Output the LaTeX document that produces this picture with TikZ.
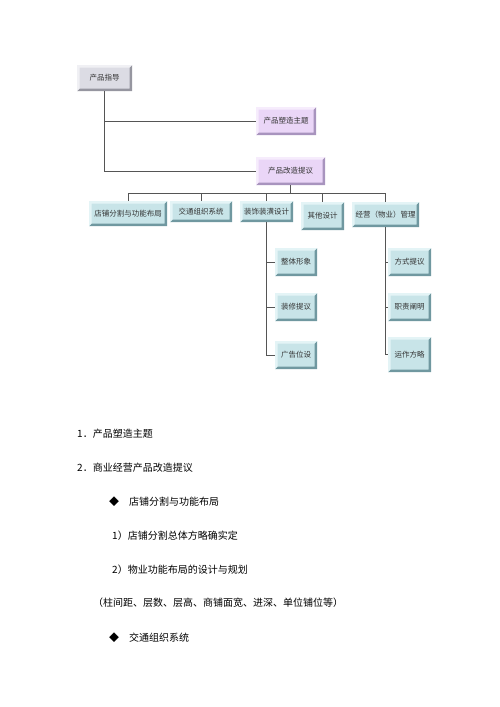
\documentclass[tikz,border=0pt]{standalone}
\usepackage{fontspec}
\setmainfont{Noto Sans CJK SC}
\usetikzlibrary{calc}

\definecolor{grayfill}{RGB}{220,220,228}
\definecolor{graydark}{RGB}{150,150,160}
\definecolor{graylight}{RGB}{240,240,244}
\definecolor{lilacfill}{RGB}{234,214,247}
\definecolor{lilacdark}{RGB}{168,148,190}
\definecolor{lilaclight}{RGB}{246,236,252}
\definecolor{tealfill}{RGB}{200,228,232}
\definecolor{tealdark}{RGB}{112,152,160}
\definecolor{teallight}{RGB}{228,244,246}
\definecolor{linkgray}{RGB}{85,85,85}

\tikzset{
  bevel/.style 2 args={path picture={
    \fill[#2] (path picture bounding box.north east) -- (path picture bounding box.south east)
      -- (path picture bounding box.south west) -- ([shift={(2.5pt,2.5pt)}]path picture bounding box.south west)
      -- ([shift={(-2.5pt,2.5pt)}]path picture bounding box.south east)
      -- ([shift={(-2.5pt,-2.5pt)}]path picture bounding box.north east) -- cycle;
    \fill[#1] (path picture bounding box.north east) -- (path picture bounding box.north west)
      -- (path picture bounding box.south west) -- ([shift={(2.5pt,2.5pt)}]path picture bounding box.south west)
      -- ([shift={(2.5pt,-2.5pt)}]path picture bounding box.north west)
      -- ([shift={(-2.5pt,-2.5pt)}]path picture bounding box.north east) -- cycle;
  }},
  chartbox/.style={inner sep=0pt, text=black!80, font=\fontsize{7.5}{9}\selectfont},
  graybox/.style={chartbox, fill=grayfill, bevel={graylight}{graydark}},
  lilacbox/.style={chartbox, fill=lilacfill, bevel={lilaclight}{lilacdark}},
  tealbox/.style={chartbox, fill=tealfill, bevel={teallight}{tealdark}},
  link/.style={draw=linkgray, line width=0.8pt},
  para/.style={anchor=west, inner sep=0pt, font=\fontsize{10}{12}\selectfont}
}

\begin{document}
\begin{tikzpicture}[x=1pt, y=-1pt]
\useasboundingbox (0,0) rectangle (500,707);
% top of the chart
\node[graybox, minimum width=55, minimum height=26] (guide) at (104.5,78) {产品指导};
\node[lilacbox, minimum width=60, minimum height=28] (theme) at (286,121) {产品塑造主题};
\node[lilacbox, minimum width=69, minimum height=28] (reform) at (290.5,171) {产品改造提议};
% second row
\node[tealbox, minimum width=78, minimum height=25] (shop) at (128,213.5) {店铺分割与功能布局};
\node[tealbox, minimum width=62, minimum height=21] (traffic) at (201,211.5) {交通组织系统};
\node[tealbox, minimum width=53, minimum height=21] (deco) at (266.5,211.5) {装饰装潢设计};
\node[tealbox, minimum width=43, minimum height=28] (other) at (322.5,216) {其他设计};
\node[tealbox, minimum width=67, minimum height=25] (manage) at (385.5,214.5) {经营（物业）管理};
% third level
\node[tealbox, minimum width=42, minimum height=28] (image) at (296,262) {整体形象};
\node[tealbox, minimum width=42, minimum height=28] (fitout) at (296,307) {装修提议};
\node[tealbox, minimum width=42, minimum height=28] (adpos) at (296,355) {广告位设};
\node[tealbox, minimum width=43, minimum height=28] (mode) at (409.5,262) {方式提议};
\node[tealbox, minimum width=43, minimum height=28] (duty) at (409.5,307) {职责阐明};
\node[tealbox, minimum width=43, minimum height=35] (ops) at (409.5,354.5) {运作方略};
\coordinate (bus) at (290.5,193);

\draw[link] (guide.south) |- (reform.west);
\draw[link] (guide.south |- theme.west) -- (theme.west);
\draw[link] (reform.south) -- (bus);
\draw[link] (shop.north |- bus) -- (manage.north |- bus);
\foreach \n in {shop,traffic,deco,other,manage}
  \draw[link] (\n.north) -- (\n.north |- bus);
\draw[link] (deco.south) |- (adpos.west);
\foreach \n in {image,fitout}
  \draw[link] (deco.south |- \n.west) -- (\n.west);
\draw[link] (manage.south) -- (manage.south |- ops.west);
\foreach \n in {mode,duty,ops}
  \draw[link] (manage.south |- \n.west) -- (\n.west);

% text below the chart
\node[para] (t1) at (77,434) {1．产品塑造主题};
\node[para] (t2) at (77,468) {2．商业经营产品改造提议};
\node[para, anchor=center] (b1) at (114,502) {◆};
\node[para] (t3) at (129,502) {店铺分割与功能布局};
\node[para] (t4) at (112,536) {1）店铺分割总体方略确实定};
\node[para] (t5) at (112,570) {2）物业功能布局的设计与规划};
\node[para] (t6) at (93,603) {（柱间距、层数、层高、商铺面宽、进深、单位铺位等）};
\node[para, anchor=center] (b2) at (114,638) {◆};
\node[para] (t7) at (129,638) {交通组织系统};
\end{tikzpicture}
\end{document}
